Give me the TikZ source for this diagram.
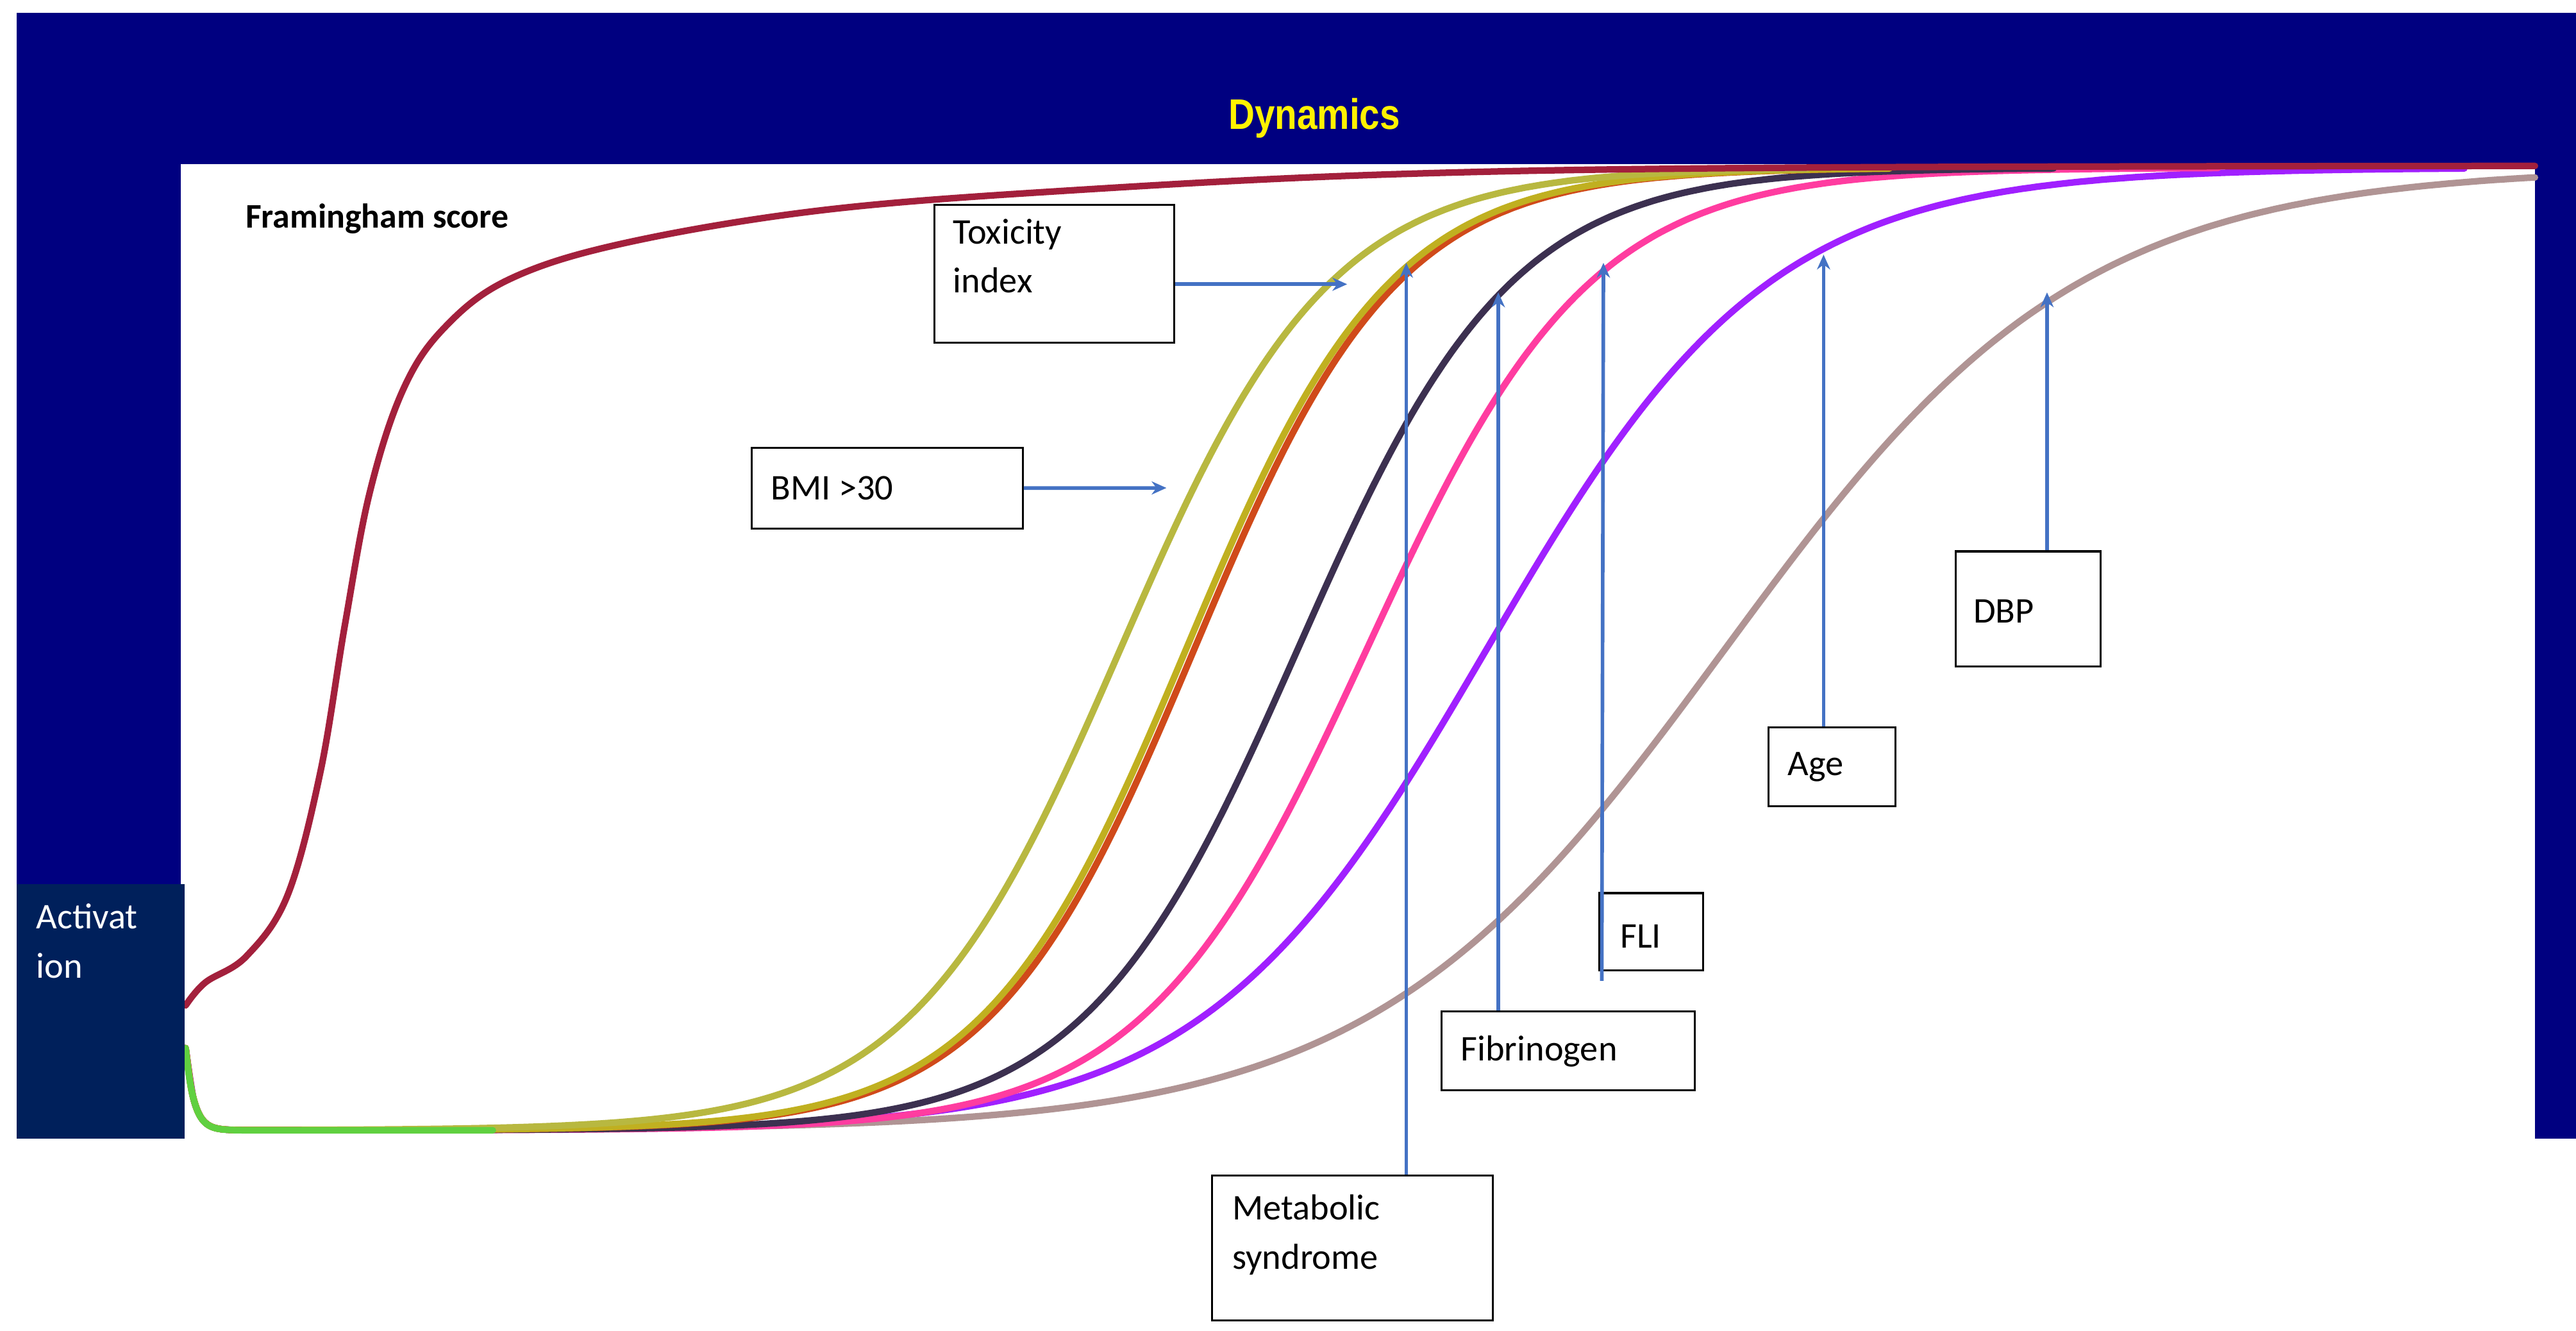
\documentclass[tikz,border=0pt]{standalone}
\usepackage{fontspec}
\setmainfont{Carlito}
\newfontfamily\dynfont{Liberation Sans}
\definecolor{navy}{HTML}{000080}
\definecolor{actbox}{HTML}{00205B}
\definecolor{arr}{HTML}{4472C4}
\definecolor{cfram}{HTML}{A3203C}
\definecolor{cbmi}{HTML}{B8B840}
\definecolor{colive}{HTML}{C0B020}
\definecolor{corange}{HTML}{D04A1A}
\definecolor{cdark}{HTML}{3C3050}
\definecolor{cpink}{HTML}{FF3CA0}
\definecolor{cpurple}{HTML}{A020FF}
\definecolor{cgrey}{HTML}{B09494}
\definecolor{cgreen}{HTML}{60D040}
\usetikzlibrary{arrows.meta}
\tikzset{
  lbl/.style={draw=black, line width=1.2pt, fill=white, inner sep=0pt, anchor=north west},
  ltxt/.style={font=\fontsize{22}{30}\selectfont, align=left, inner sep=0pt},
  arrw/.style={draw=arr, line width=2.2pt, -{Stealth[length=9pt,width=8pt]}},
  crv/.style={line width=4pt, line cap=round, samples=300, smooth}
}
\begin{document}
\begin{tikzpicture}[x=1pt,y=-1pt]
\useasboundingbox (0,0) rectangle (1568,810);
\fill[white] (0,0) rectangle (1568,810);
\fill[navy] (10,8) rectangle (1568,693);
\fill[white] (110,100) rectangle (1543,693);
\node[font=\dynfont\bfseries\fontsize{26}{30}\selectfont, text=yellow, xscale=0.85] (dyn) at (800,72) {Dynamics};
\node[font=\bfseries\fontsize{21}{24}\selectfont, anchor=west] (fram) at (146,133) {Framingham score};
% curves
\def\sig#1#2#3{688-586/(1+exp(max(-9,min(9,-((#3)-#1)/#2))))-50*exp(max(-9,-((#3)-113)/5))}
\draw[crv, cgrey] plot[domain=113:1543] (\x,{\sig{1050}{108}{\x}});
\draw[crv, cpurple] plot[domain=113:1500] (\x,{\sig{905}{86}{\x}});
\draw[crv, cpink] plot[domain=113:1350] (\x,{\sig{832}{68}{\x}});
\draw[crv, cdark] plot[domain=113:1250] (\x,{\sig{790}{65}{\x}});
\draw[crv, corange] plot[domain=113:1150] (\x,{\sig{727}{62}{\x}});
\draw[crv, colive] plot[domain=113:1150] (\x,{\sig{722}{62}{\x}});
\draw[crv, cbmi] plot[domain=113:1100] (\x,{\sig{682}{64}{\x}});
\draw[crv, cgreen] plot[domain=113:300] (\x,{688-50*exp(max(-9,-((\x)-113)/5))});
\draw[crv, cfram] plot[smooth, tension=0.6] coordinates {(113,612) (125,598) (150,582) (175,545) (195,470) (210,380) (225,300) (245,238) (270,200) (310,170) (380,148) (500,128) (650,116) (850,106) (1100,102) (1543,101)};
% activation box
\node[fill=actbox, minimum width=102pt, minimum height=155pt, anchor=north west, inner sep=0pt] (act) at (10,538) {};
\node[ltxt, text=white, anchor=north west] (acttxt) at (22,550) {Activat\\ion};
% label boxes
\node[lbl, minimum width=146pt, minimum height=84pt] (tox) at (568,124) {};
\node[ltxt, anchor=north west] (toxt) at (580,133) {Toxicity\\index};
\node[lbl, minimum width=165pt, minimum height=49pt] (bmi) at (457,272) {};
\node[ltxt, anchor=west] (bmit) at (469,297) {BMI >30};
\node[lbl, minimum width=88pt, minimum height=70pt] (dbp) at (1190,335) {};
\node[ltxt, anchor=west] (dbpt) at (1201,372) {DBP};
\node[lbl, minimum width=77pt, minimum height=48pt] (age) at (1076,442) {};
\node[ltxt, anchor=west] (aget) at (1088,467) {Age};
\node[lbl, minimum width=63pt, minimum height=47pt] (fli) at (973,543) {};
\node[ltxt, anchor=west] (flit) at (986,570) {FLI};
\node[lbl, minimum width=154pt, minimum height=48pt] (fib) at (877,615) {};
\node[ltxt, anchor=west] (fibt) at (889,640) {Fibrinogen};
\node[lbl, minimum width=171pt, minimum height=88pt] (met) at (737,715) {};
\node[ltxt, anchor=north west] (mett) at (750,727) {Metabolic\\syndrome};
% arrows
\coordinate (tT) at (820,173);
\coordinate (bT) at (710,297);
\coordinate (dT) at (1246,178);
\coordinate (aT) at (1110,155);
\coordinate (fS) at (975,597);
\coordinate (fT) at (976,160);
\coordinate (gT) at (912,178);
\coordinate (mT) at (856,160);
\draw[arrw] (tox.east |- tT) -- (tT);
\draw[arrw] (bmi.east) -- (bT);
\draw[arrw] (dbp.north -| dT) -- (dT);
\draw[arrw] (age.north -| aT) -- (aT);
\draw[arrw] (fS) -- (fT);
\draw[arrw] (fib.north -| gT) -- (gT);
\draw[arrw] (met.north -| mT) -- (mT);
\end{tikzpicture}
\end{document}
